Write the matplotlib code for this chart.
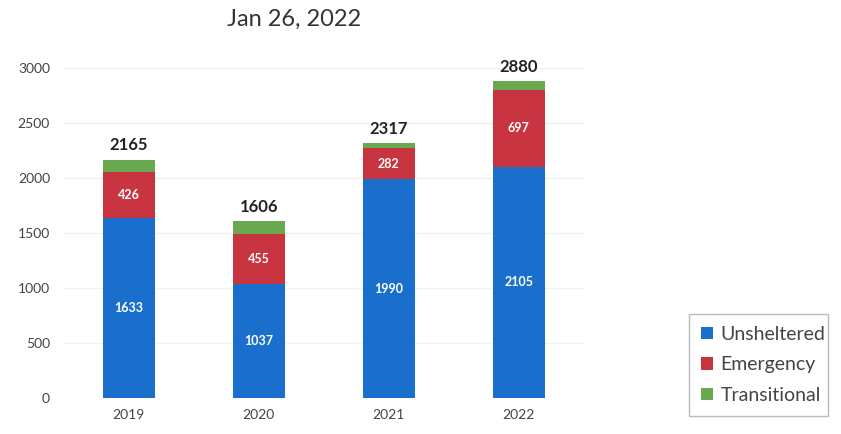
import numpy as np
import matplotlib.pyplot as plt

plt.rcParams['font.family'] = ['Lato', 'DejaVu Sans']

years = ['2019', '2020', '2021', '2022']
unsheltered = [1633, 1037, 1990, 2105]
emergency = [426, 455, 282, 697]
totals = [2165, 1606, 2317, 2880]
transitional = [t - u - e for t, u, e in zip(totals, unsheltered, emergency)]

blue = '#1a6fcc'
red = '#c8343f'
green = '#6aa84f'

fig = plt.figure(figsize=(8.41, 4.34), dpi=100)
ax = fig.add_axes([0.076, 0.083, 0.618, 0.760])

x = np.arange(len(years))
w = 0.4
u = np.array(unsheltered)
e = np.array(emergency)
t = np.array(transitional)

ax.bar(x, u, w, color=blue, label='Unsheltered', zorder=2)
ax.bar(x, e, w, bottom=u, color=red, label='Emergency', zorder=2)
ax.bar(x, t, w, bottom=u + e, color=green, label='Transitional', zorder=2)

# labels inside the bars
for i in range(len(years)):
    ax.text(x[i], u[i] / 2, str(unsheltered[i]), ha='center', va='center',
            color='white', fontsize=9, fontweight='bold')
    ax.text(x[i], u[i] + e[i] / 2, str(emergency[i]), ha='center', va='center',
            color='white', fontsize=9, fontweight='bold')
    ax.text(x[i], totals[i] + 60, str(totals[i]), ha='center', va='bottom',
            color='#222222', fontsize=12, fontweight='bold', clip_on=False)

ax.set_ylim(0, 3000)
ax.set_xlim(-0.5, 3.5)
ax.set_yticks(np.arange(0, 3001, 500))
ax.set_xticks(x)
ax.set_xticklabels(years)
ax.tick_params(length=0, labelsize=10, colors='#444444')
ax.tick_params(axis='x', pad=8)
ax.tick_params(axis='y', pad=10)
ax.grid(axis='y', color='#f0f0f0', linewidth=1, zorder=0)
for s in ax.spines.values():
    s.set_visible(False)

fig.text(0.35, 0.955, 'Jan 26, 2022', ha='center', va='center',
         fontsize=17, color='#333333')

handles, labels = ax.get_legend_handles_labels()
leg = fig.legend(handles, labels, loc='lower left',
                 bbox_to_anchor=(0.808, 0.02, 0.188, 0.266), mode='expand',
                 fontsize=14, handlelength=0.6, handleheight=0.6,
                 handletextpad=0.4, labelspacing=0.7, frameon=True,
                 fancybox=False, borderpad=0.6)
leg.get_frame().set_edgecolor('#aaaaaa')
leg.get_frame().set_linewidth(1)
for txt in leg.get_texts():
    txt.set_color('#444444')

fig.savefig('out.png', dpi=100)
